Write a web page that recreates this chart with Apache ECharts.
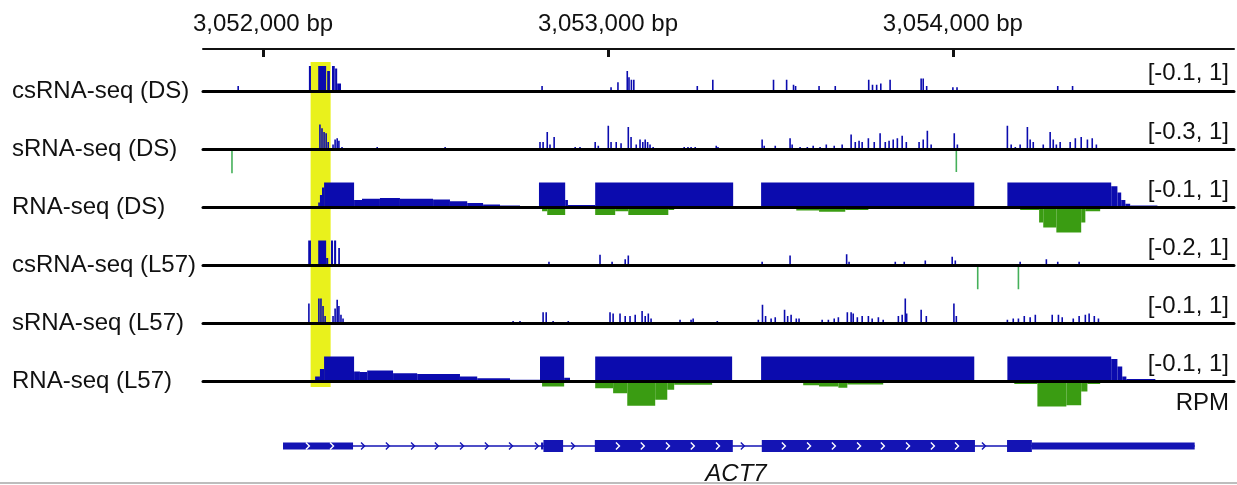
<!DOCTYPE html>
<html><head><meta charset="utf-8">
<script src="https://cdn.jsdelivr.net/npm/echarts@6/dist/echarts.min.js"></script>
<style>html,body{margin:0;padding:0;background:#fff}#c{width:1237px;height:485px}</style>
</head><body><div id="c"></div>
<script>
// ---------------- DATA ----------------
const trackNames = ['csRNA-seq (DS)', 'sRNA-seq (DS)', 'RNA-seq (DS)', 'csRNA-seq (L57)', 'sRNA-seq (L57)', 'RNA-seq (L57)'];
const trackRanges = ['[-0.1, 1]', '[-0.3, 1]', '[-0.1, 1]', '[-0.2, 1]', '[-0.1, 1]', '[-0.1, 1]'];
const axisTickValues = [3052000, 3053000, 3054000];
const viewRange = [3051826, 3054815];
const highlightRange = [3052138, 3052196];
const unitLabel = 'RPM';
const geneName = 'ACT7';

// blocks: [start bp, end bp, RPM (scaled)], spikes: [bp, RPM]
const csDS_blocks = [[3052133,3052139,1.0],[3052160,3052183,1.0],[3052186,3052194,0.8],[3052200,3052208,1.0],[3052209,3052215,0.9],[3052215,3052226,0.3]];
const csDS_spikes = [[3051928,0.2],[3052809,0.2],[3053009,0.15],[3053029,0.35],[3053056,0.8],[3053061,0.55],[3053068,0.45],[3053075,0.45],[3053259,0.2],[3053304,0.45],[3053480,0.45],[3053518,0.45],[3053538,0.25],[3053544,0.2],[3053612,0.2],[3053659,0.2],[3053756,0.45],[3053767,0.25],[3053779,0.25],[3053791,0.3],[3053818,0.45],[3053908,0.5],[3053914,0.5],[3053924,0.2],[3054000,0.15],[3054012,0.15],[3054304,0.2],[3054347,0.2]];

const sDS_blocks = [];
const sDS_spikes = [[3051910,-0.95],[3052136,0.05],[3052165,1.0],[3052171,0.85],[3052177,0.7],[3052183,0.65],[3052189,0.3],[3052203,0.2],[3052209,0.4],[3052215,0.45],[3052220,0.35],[3052229,0.1],[3052331,0.1],[3052528,0.1],[3052803,0.3],[3052812,0.3],[3052824,0.7],[3052832,0.2],[3052844,0.5],[3052905,0.1],[3052919,0.1],[3052963,0.3],[3052972,0.15],[3053001,0.95],[3053009,0.3],[3053024,0.3],[3053038,0.25],[3053059,0.9],[3053067,0.5],[3053082,0.2],[3053093,0.4],[3053101,0.3],[3053108,0.4],[3053115,0.3],[3053122,0.2],[3053131,0.1],[3053221,0.1],[3053232,0.1],[3053241,0.1],[3053253,0.1],[3053314,0.15],[3053319,0.1],[3053447,0.4],[3053453,0.15],[3053485,0.15],[3053528,0.45],[3053534,0.2],[3053557,0.1],[3053578,0.1],[3053595,0.15],[3053615,0.1],[3053633,0.2],[3053656,0.15],[3053679,0.2],[3053705,0.6],[3053717,0.3],[3053728,0.35],[3053737,0.3],[3053755,0.45],[3053772,0.3],[3053789,0.65],[3053804,0.3],[3053815,0.35],[3053827,0.4],[3053839,0.45],[3053853,0.55],[3053865,0.3],[3053902,0.3],[3053914,0.4],[3053926,0.75],[3053937,0.2],[3054004,0.65],[3054010,-0.9],[3054013,0.2],[3054024,0.05],[3054158,0.95],[3054169,0.2],[3054181,0.1],[3054195,0.2],[3054216,0.9],[3054224,0.4],[3054233,0.3],[3054262,0.2],[3054282,0.7],[3054291,0.4],[3054300,0.2],[3054311,0.3],[3054340,0.3],[3054355,0.45],[3054372,0.5],[3054390,0.4],[3054404,0.45],[3054416,0.2],[3054477,0.05]];

const rnaDS_blocks = [[3052136,3052160,0.05],[3052160,3052165,0.2],[3052165,3052171,0.5],[3052171,3052177,0.8],[3052177,3052264,1.0],[3052264,3052287,0.3],[3052287,3052339,0.35],[3052339,3052397,0.38],[3052397,3052493,0.35],[3052493,3052542,0.32],[3052542,3052592,0.25],[3052592,3052638,0.18],[3052638,3052687,0.12],[3052687,3052745,0.08],[3052745,3052800,0.06],[3052800,3052876,1.0],[3052876,3052884,0.3],[3052884,3052963,0.1],[3052963,3053363,1.0],[3053444,3054062,1.0],[3054158,3054459,1.0],[3054459,3054477,0.85],[3054477,3054488,0.6],[3054488,3054500,0.3],[3054500,3054514,0.15],[3054514,3054593,0.08],
  [3052809,3052824,-0.15],[3052824,3052876,-0.3],[3052963,3053021,-0.3],[3053021,3053059,-0.15],[3053059,3053175,-0.3],[3053175,3053192,-0.1],[3053192,3053546,-0.03],[3053546,3053612,-0.12],[3053612,3053688,-0.17],[3053688,3053755,-0.1],[3053755,3053847,-0.03],[3054195,3054250,-0.1],[3054250,3054262,-0.6],[3054262,3054300,-0.8],[3054300,3054372,-1.0],[3054372,3054384,-0.6],[3054384,3054427,-0.15]];
const rnaDS_spikes = [];

const csL57_blocks = [[3052116,3052131,0.03],[3052131,3052139,1.0],[3052160,3052183,1.0],[3052183,3052189,0.3],[3052197,3052203,1.0],[3052206,3052212,1.0],[3052218,3052223,0.7]];
const csL57_spikes = [[3052829,0.15],[3052977,0.43],[3053012,0.15],[3053050,0.25],[3053059,0.4],[3053247,0.03],[3053447,0.15],[3053470,0.05],[3053499,0.05],[3053528,0.4],[3053627,0.05],[3053692,0.45],[3053699,0.15],[3053717,0.05],[3053737,0.05],[3053833,0.15],[3053859,0.15],[3053888,0.05],[3053920,0.2],[3053998,0.35],[3054007,0.2],[3054072,-0.95],[3054190,-0.95],[3054195,0.15],[3054271,0.25],[3054304,0.15],[3054366,0.15]];

const sL57_blocks = [];
const sL57_spikes = [[3052133,0.8],[3052162,1.0],[3052168,1.0],[3052174,0.7],[3052180,0.3],[3052203,0.3],[3052209,0.6],[3052215,0.95],[3052220,0.7],[3052226,0.35],[3052232,0.2],[3052725,0.1],[3052745,0.1],[3052812,0.45],[3052821,0.45],[3052841,0.1],[3052885,0.1],[3053006,0.45],[3053015,0.4],[3053035,0.4],[3053050,0.3],[3053064,0.3],[3053079,0.35],[3053099,0.5],[3053108,0.3],[3053117,0.4],[3053125,0.2],[3053209,0.15],[3053241,0.15],[3053247,0.2],[3053317,0.1],[3053436,0.15],[3053448,0.75],[3053457,0.3],[3053473,0.2],[3053485,0.25],[3053512,0.55],[3053521,0.3],[3053531,0.35],[3053546,0.2],[3053554,0.2],[3053621,0.15],[3053639,0.15],[3053656,0.2],[3053668,0.25],[3053694,0.45],[3053705,0.45],[3053711,0.4],[3053723,0.25],[3053737,0.3],[3053755,0.3],[3053766,0.2],[3053784,0.25],[3053798,0.15],[3053842,0.3],[3053853,0.35],[3053862,1.0],[3053866,0.4],[3053908,0.55],[3053923,0.3],[3054003,0.8],[3054010,0.3],[3054158,0.15],[3054175,0.2],[3054190,0.2],[3054207,0.3],[3054224,0.25],[3054239,0.35],[3054288,0.35],[3054306,0.35],[3054317,0.25],[3054349,0.2],[3054366,0.3],[3054384,0.35],[3054395,0.4],[3054410,0.3],[3054422,0.2],[3054593,0.03]];

const rnaL57_blocks = [[3052142,3052151,0.05],[3052151,3052165,0.2],[3052165,3052177,0.5],[3052177,3052264,1.0],[3052264,3052281,0.4],[3052281,3052302,0.38],[3052302,3052377,0.44],[3052377,3052447,0.33],[3052447,3052571,0.3],[3052571,3052621,0.2],[3052621,3052716,0.13],[3052716,3052803,0.07],[3052803,3052873,1.0],[3052873,3052890,0.15],[3052890,3052963,0.05],[3052963,3053360,1.0],[3053444,3054062,1.0],[3054158,3054459,1.0],[3054459,3054477,0.9],[3054477,3054491,0.6],[3054491,3054503,0.2],[3054503,3054587,0.1],
  [3052809,3052873,-0.2],[3052963,3053015,-0.27],[3053015,3053056,-0.47],[3053056,3053137,-0.97],[3053137,3053172,-0.73],[3053172,3053192,-0.33],[3053192,3053302,-0.13],[3053302,3053566,-0.03],[3053566,3053612,-0.15],[3053612,3053668,-0.2],[3053668,3053694,-0.25],[3053694,3053798,-0.12],[3053798,3053876,-0.05],[3054178,3054245,-0.1],[3054245,3054329,-1.0],[3054329,3054372,-0.95],[3054372,3054390,-0.4],[3054390,3054427,-0.1]];
const rnaL57_spikes = [];

// gene model: [start, end, isCoding(1)/UTR(0)]
const geneSpan = [3052058, 3054701];
const geneExons = [[3052058,3052261,0],[3052806,3052813,0],[3052813,3052870,1],[3052962,3053362,1],[3053446,3054064,1],[3054157,3054229,1],[3054229,3054701,0]];
const geneStrandMarks = [3052130,3052200,3052290,3052362,3052435,3052504,3052577,3052649,3052719,3052794,3052899,3053029,3053101,3053174,3053246,3053319,3053391,3053510,3053583,3053655,3053728,3053797,3053870,3053942,3054012,3054090];

// ---------------- LAYOUT / STYLE ----------------
const trackData = [
  {blocks: csDS_blocks, spikes: csDS_spikes, rna: false},
  {blocks: sDS_blocks, spikes: sDS_spikes, rna: false},
  {blocks: rnaDS_blocks, spikes: rnaDS_spikes, rna: true},
  {blocks: csL57_blocks, spikes: csL57_spikes, rna: false},
  {blocks: sL57_blocks, spikes: sL57_spikes, rna: false},
  {blocks: rnaL57_blocks, spikes: rnaL57_spikes, rna: true}
];
const baselines = [91, 149.5, 207.5, 265.5, 323.5, 381.5];
const HALF = 25;
const LEFT = 203, WIDTH = 1031;
const BLUE = '#0b0bae', GREEN_RNA = '#3a9c12', GREEN_SPIKE = '#45b05a', YELLOW = '#e9f11c', GENE_BLUE = '#1414b4';
const FONT = 'Liberation Sans, Arial, Helvetica, sans-serif';

const grids = [], xAxes = [], yAxes = [], series = [], graphics = [];

// grid 0: top coordinate axis
grids.push({left: LEFT, width: WIDTH, top: 41, height: 8});
xAxes.push({type: 'value', gridIndex: 0, position: 'top', min: viewRange[0], max: viewRange[1],
  axisLine: {show: true, lineStyle: {color: '#111', width: 2}},
  axisTick: {show: true, inside: true, length: 8, lineStyle: {color: '#111', width: 3}, customValues: axisTickValues},
  axisLabel: {show: true, customValues: axisTickValues, margin: 5, fontSize: 24, fontFamily: FONT, color: '#111',
    formatter: v => Number(v).toLocaleString('en-US') + ' bp'},
  splitLine: {show: false}});
yAxes.push({type: 'value', gridIndex: 0, min: 0, max: 1, show: false});

// track grids 1..6
trackData.forEach((t, i) => {
  const gi = grids.length;
  grids.push({left: LEFT, width: WIDTH, top: baselines[i] - HALF, height: 2 * HALF});
  xAxes.push({type: 'value', gridIndex: gi, min: viewRange[0], max: viewRange[1], z: 10,
    axisLine: {show: true, onZero: true, lineStyle: {color: '#000', width: 3}},
    axisTick: {show: false}, axisLabel: {show: false}, splitLine: {show: false}});
  yAxes.push({type: 'value', gridIndex: gi, min: -1, max: 1,
    axisLine: {show: false}, axisTick: {show: false}, axisLabel: {show: false}, splitLine: {show: false},
    name: trackNames[i], nameLocation: 'middle', nameRotate: 0, nameGap: LEFT - 12,
    nameTextStyle: {align: 'left', verticalAlign: 'middle', fontSize: 24, fontFamily: FONT, color: '#111'}});
  const data = t.blocks.concat(t.spikes.map(s => [s[0] - 1.6, s[0] + 1.6, s[1]]));
  const neg = t.rna ? GREEN_RNA : GREEN_SPIKE;
  series.push({type: 'custom', xAxisIndex: gi, yAxisIndex: gi, z: 3, silent: true,
    encode: {x: [0, 1], y: 2}, data: data,
    renderItem: (params, api) => {
      const s = api.value(0), e = api.value(1), v = api.value(2);
      const p0 = api.coord([s, 0]), p1 = api.coord([e, v]);
      let w = p1[0] - p0[0];
      let x = p0[0];
      if (w < 1.6) { x = (p0[0] + p1[0]) / 2 - 0.8; w = 1.6; }
      const y = Math.min(p0[1], p1[1]);
      const h = Math.abs(p1[1] - p0[1]);
      return {type: 'rect', shape: {x: x, y: y, width: w, height: h}, style: {fill: v < 0 ? neg : BLUE}};
    }});
  graphics.push({type: 'text', x: 1229, y: baselines[i] - 17.5, z: 20,
    style: {text: trackRanges[i], align: 'right', verticalAlign: 'middle', fontSize: 24, fontFamily: FONT, fill: '#111'}});
});

// highlight grid
{
  const gi = grids.length;
  grids.push({left: LEFT, width: WIDTH, top: 62, height: 325});
  xAxes.push({type: 'value', gridIndex: gi, min: viewRange[0], max: viewRange[1], show: false});
  yAxes.push({type: 'value', gridIndex: gi, min: 0, max: 1, show: false});
  series.push({type: 'custom', xAxisIndex: gi, yAxisIndex: gi, z: 1, silent: true,
    data: [[highlightRange[0], highlightRange[1]]],
    renderItem: (params, api) => {
      const a = api.coord([api.value(0), 1]), b = api.coord([api.value(1), 0]);
      return {type: 'rect', shape: {x: a[0], y: a[1], width: b[0] - a[0], height: b[1] - a[1]}, style: {fill: YELLOW}};
    }});
}

// gene grid
{
  const gi = grids.length;
  grids.push({left: LEFT, width: WIDTH, top: 430, height: 32});
  xAxes.push({type: 'value', gridIndex: gi, min: viewRange[0], max: viewRange[1], show: false});
  yAxes.push({type: 'value', gridIndex: gi, min: -1, max: 1, show: false});
  series.push({type: 'custom', xAxisIndex: gi, yAxisIndex: gi, z: 3, silent: true,
    data: [[geneSpan[0], geneSpan[1]]],
    renderItem: (params, api) => {
      const a = api.coord([api.value(0), 0]), b = api.coord([api.value(1), 0]);
      return {type: 'line', shape: {x1: a[0], y1: a[1], x2: b[0], y2: b[1]}, style: {stroke: GENE_BLUE, lineWidth: 1.3}};
    }});
  series.push({type: 'custom', xAxisIndex: gi, yAxisIndex: gi, z: 4, silent: true,
    data: geneExons,
    renderItem: (params, api) => {
      const a = api.coord([api.value(0), 0]), b = api.coord([api.value(1), 0]);
      const h = api.value(2) ? 12 : 7;
      return {type: 'rect', shape: {x: a[0], y: a[1] - h / 2, width: b[0] - a[0], height: h}, style: {fill: GENE_BLUE}};
    }});
  series.push({type: 'custom', xAxisIndex: gi, yAxisIndex: gi, z: 5, silent: true,
    data: geneStrandMarks.map(v => [v]),
    renderItem: (params, api) => {
      const bp = api.value(0);
      const p = api.coord([bp, 0]);
      const inExon = geneExons.some(e => bp >= e[0] && bp <= e[1]);
      return {type: 'polyline', shape: {points: [[p[0] - 2, p[1] - 3.5], [p[0] + 1.5, p[1]], [p[0] - 2, p[1] + 3.5]]},
        style: {stroke: inExon ? '#ffffff' : GENE_BLUE, lineWidth: 1.4, fill: null}};
    }});
}

graphics.push({type: 'text', x: 1229, y: 403, style: {text: unitLabel, align: 'right', verticalAlign: 'middle', fontSize: 24, fontFamily: FONT, fill: '#111'}});
graphics.push({type: 'text', x: 736, y: 474, style: {text: geneName, align: 'center', verticalAlign: 'middle', fontSize: 24, fontStyle: 'italic', fontFamily: FONT, fill: '#111'}});
graphics.push({type: 'rect', x: 0, y: 482, z: 30, shape: {width: 1237, height: 2}, style: {fill: '#bdbdbd'}});

const chart = echarts.init(document.getElementById('c'), null, {renderer: 'canvas'});
chart.setOption({
  animation: false,
  backgroundColor: '#fff',
  grid: grids, xAxis: xAxes, yAxis: yAxes, series: series, graphic: graphics
});
</script>
</body></html>
